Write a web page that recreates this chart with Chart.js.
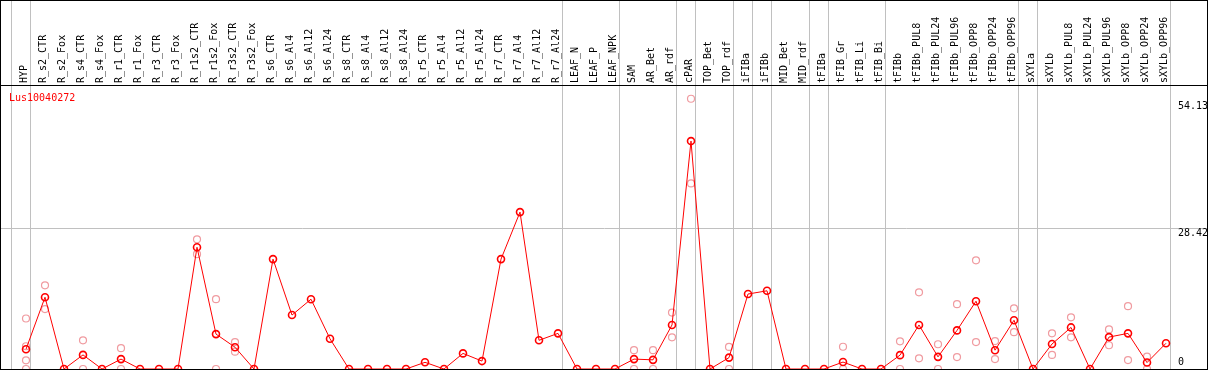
<!DOCTYPE html>
<html>
<head>
<meta charset="utf-8">
<script src="https://cdn.jsdelivr.net/npm/chart.js@4.4.1/dist/chart.umd.min.js"></script>
<style>
  html, body { margin: 0; padding: 0; background: #fff; }
  #wrap { width: 1209px; height: 370px; }
</style>
</head>
<body>
<div id="wrap"><canvas id="expr" width="1209" height="370"></canvas></div>
<script>
// gene shown in the plot
const geneName = "Lus10040272";

// sample names, left to right
const categories = [
  "HYP", "R_s2_CTR", "R_s2_Fox", "R_s4_CTR", "R_s4_Fox", "R_r1_CTR", "R_r1_Fox",
  "R_r3_CTR", "R_r3_Fox", "R_r1s2_CTR", "R_r1s2_Fox", "R_r3s2_CTR", "R_r3s2_Fox",
  "R_s6_CTR", "R_s6_Al4", "R_s6_Al12", "R_s6_Al24", "R_s8_CTR", "R_s8_Al4",
  "R_s8_Al12", "R_s8_Al24", "R_r5_CTR", "R_r5_Al4", "R_r5_Al12", "R_r5_Al24",
  "R_r7_CTR", "R_r7_Al4", "R_r7_Al12", "R_r7_Al24", "LEAF_N", "LEAF_P", "LEAF_NPK",
  "SAM", "AR_Bet", "AR_rdf", "cPAR", "TOP_Bet", "TOP_rdf", "iFIBa", "iFIBb",
  "MID_Bet", "MID_rdf", "tFIBa", "tFIB_Gr", "tFIB_Li", "tFIB_Bi", "tFIBb",
  "tFIBb_PUL8", "tFIBb_PUL24", "tFIBb_PUL96", "tFIBb_OPP8", "tFIBb_OPP24", "tFIBb_OPP96",
  "sXYLa", "sXYLb", "sXYLb_PUL8", "sXYLb_PUL24", "sXYLb_PUL96", "sXYLb_OPP8",
  "sXYLb_OPP24", "sXYLb_OPP96"
];

// mean expression (red line)
const meanValues = [
  4.0, 14.5, 0, 2.85, 0, 2.0, 0,
  0, 0, 24.6, 7.05, 4.4, 0,
  22.2, 10.9, 14.1, 6.1, 0, 0,
  0, 0, 1.35, 0, 3.15, 1.6,
  22.2, 31.7, 5.8, 7.2, 0, 0, 0,
  2.0, 1.85, 8.9, 46.05, 0, 2.3, 15.15, 15.8,
  0, 0, 0, 1.4, 0, 0, 2.8,
  8.9, 2.45, 7.8, 13.7, 3.8, 9.85,
  0, 5.05, 8.4, 0, 6.45, 7.2,
  1.3, 5.2
];

// single replicates (faint circles), one list per sample
const replicates = [
  [10.2, 4.6, 1.75, 0], [16.9, 12.1], [], [5.8, 0], [], [4.2, 0], [],
  [], [], [26.2, 23.2], [14.1, 0], [5.45, 3.5], [],
  [], [], [], [], [], [],
  [], [], [], [], [], [],
  [], [], [], [], [], [], [],
  [3.8, 0], [3.8, 0], [11.4, 6.4], [54.6, 37.5], [], [4.45, 0], [], [],
  [], [], [], [4.5, 0], [], [], [5.6, 0],
  [15.5, 2.15], [5.0, 0], [13.1, 2.4], [21.95, 5.45], [5.65, 2.0], [12.25, 7.45],
  [], [7.2, 2.85], [10.45, 6.4], [], [8.0, 4.8], [12.7, 1.8],
  [2.5, 0], []
];

// right axis labels
const yTicks = [0, 28.42, 54.13];

// number of samples before each grey separator line
const groupEnds = [0, 1, 29, 32, 35, 36, 38, 39, 40, 42, 43, 46, 53, 54, 61];

const monoFont = "'DejaVu Sans Mono', monospace";

const framePlugin = {
  id: "frame",
  beforeDatasetsDraw(chart) {
    const { ctx, chartArea, scales } = chart;
    ctx.save();
    ctx.strokeStyle = "#c0c0c0";
    ctx.lineWidth = 1;
    groupEnds.forEach(k => {
      const x = Math.floor(scales.x.getPixelForValue(k - 1 + 0.24)) + 0.5;
      ctx.beginPath();
      ctx.moveTo(x, 0);
      ctx.lineTo(x, chartArea.bottom);
      ctx.stroke();
    });
    ctx.restore();
  },
  afterDraw(chart) {
    const { ctx, chartArea, scales } = chart;
    ctx.save();
    // outer box + line under the labels
    ctx.strokeStyle = "#000";
    ctx.lineWidth = 1;
    ctx.strokeRect(0.5, 0.5, chart.width - 2, chart.height - 1);
    ctx.beginPath();
    ctx.moveTo(0, chartArea.top + 0.5);
    ctx.lineTo(chart.width - 1, chartArea.top + 0.5);
    ctx.stroke();
    // y labels inside the plot, right side
    ctx.font = "10px " + monoFont;
    ctx.fillStyle = "#000";
    ctx.textAlign = "left";
    ctx.textBaseline = "alphabetic";
    yTicks.forEach(v => {
      const py = scales.y.getPixelForValue(v);
      ctx.fillText(String(v), chartArea.right - 30, v === 0 ? py - 4 : py + 8);
    });
    // gene name
    ctx.fillStyle = "#ff0000";
    ctx.font = "10px " + monoFont;
    ctx.fillText(geneName, chartArea.left + 8, chartArea.top + 16);
    ctx.restore();
  }
};

const repPoints = [];
replicates.forEach((list, i) => list.forEach(v => repPoints.push({ x: i, y: v })));

new Chart(document.getElementById("expr"), {
  type: "line",
  data: {
    datasets: [
      {
        label: geneName,
        data: meanValues.map((v, i) => ({ x: i, y: v })),
        borderColor: "#ff0000",
        borderWidth: 1,
        pointRadius: 3.5,
        pointBorderWidth: 1.6,
        pointBorderColor: "#ff0000",
        pointBackgroundColor: "rgba(0,0,0,0)",
        tension: 0,
        clip: false,
        order: 0
      },
      {
        label: "replicates",
        data: repPoints,
        showLine: false,
        pointRadius: 3.5,
        pointBorderWidth: 1.2,
        pointBorderColor: "rgb(240,155,160)",
        pointBackgroundColor: "rgba(0,0,0,0)",
        clip: false,
        order: 1
      }
    ]
  },
  options: {
    responsive: false,
    animation: false,
    layout: { autoPadding: false, padding: { left: 1, right: 1, top: 0, bottom: 1 } },
    plugins: { legend: { display: false }, tooltip: { enabled: false }, title: { display: false } },
    scales: {
      x: {
        type: "linear",
        position: "top",
        min: -1.316,
        max: 62.21,
        afterBuildTicks: s => { s.ticks = categories.map((c, i) => ({ value: i })); },
        afterFit: s => { s.height = 85; s.paddingLeft = 0; s.paddingRight = 0; },
        grid: { display: false, drawTicks: false },
        border: { display: false },
        ticks: {
          autoSkip: false,
          maxRotation: 90,
          minRotation: 90,
          padding: 2,
          labelOffset: 10,
          color: "#000",
          font: { family: monoFont, size: 10 },
          callback: v => categories[v]
        }
      },
      y: {
        type: "linear",
        position: "right",
        min: 0,
        max: 57.38,
        afterBuildTicks: s => { s.ticks = yTicks.map(v => ({ value: v })); },
        afterFit: s => { s.width = 0; s.paddingTop = 0; s.paddingBottom = 0; },
        ticks: { display: false },
        grid: {
          drawTicks: false,
          color: c => (c.tick && c.tick.value === yTicks[1]) ? "#c0c0c0" : "rgba(0,0,0,0)"
        },
        border: { display: false }
      }
    }
  },
  plugins: [framePlugin]
});
</script>
</body>
</html>
